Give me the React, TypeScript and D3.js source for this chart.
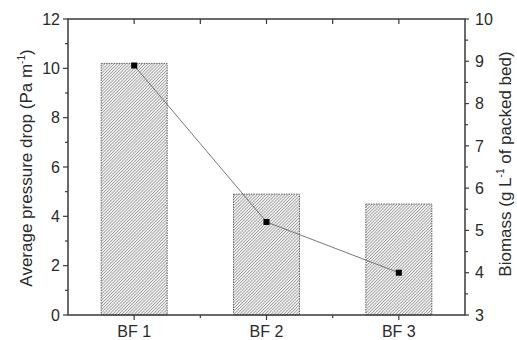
import React from "react";
import * as d3 from "d3";

const categories = ["BF 1", "BF 2", "BF 3"];
const pressureDrop = [10.2, 4.9, 4.5];
const biomass = [8.9, 5.2, 4.0];
const leftTicks = [0, 2, 4, 6, 8, 10, 12];
const rightTicks = [3, 4, 5, 6, 7, 8, 9, 10];

const W = 517, H = 340;
const M = { left: 68, right: 465, top: 19, bottom: 315 };
const AX = "#3a3a3a";
const TXT = "#2a2a2a";
const FONT = "'Liberation Sans', Arial, sans-serif";

export default function App() {
  const x = d3.scaleLinear().domain([0.5, 3.5]).range([M.left, M.right]);
  const yL = d3.scaleLinear().domain([0, 12]).range([M.bottom, M.top]);
  const yR = d3.scaleLinear().domain([3, 10]).range([M.bottom, M.top]);
  const barW = 66;
  const xPos = categories.map((_, i) => x(i + 1));
  const xMinor = d3.range(1.5, 3.5, 1).map((v) => x(v));
  const leftMinor = d3.range(1, 12, 2);
  const rightMinor = d3.range(3.5, 10, 1);
  const line = d3
    .line<number>()
    .x((_, i) => xPos[i])
    .y((d) => yR(d));

  return (
    <svg width={W} height={H} style={{ position: "absolute", left: 0, top: 0, background: "#fff" }} fontFamily={FONT}>
      <defs>
        <pattern id="hatch" patternUnits="userSpaceOnUse" width={2.2} height={2.2} patternTransform="rotate(45)">
          <rect width={2.2} height={2.2} fill="#eeeeee" />
          <line x1={0} y1={0} x2={0} y2={2.2} stroke="#5a5a5a" strokeWidth={0.8} />
        </pattern>
      </defs>
      {pressureDrop.map((v, i) => (
        <rect
          key={i}
          x={xPos[i] - barW / 2}
          y={yL(v)}
          width={barW}
          height={yL(0) - yL(v)}
          fill="url(#hatch)"
          stroke="#444"
          strokeWidth={0.8}
          strokeDasharray="1.5 1"
        />
      ))}
      <path d={line(biomass) || ""} fill="none" stroke="#777" strokeWidth={1} />
      {biomass.map((v, i) => (
        <rect key={i} x={xPos[i] - 3} y={yR(v) - 3} width={6} height={6} fill="#000" />
      ))}
      <rect x={M.left} y={M.top} width={M.right - M.left} height={M.bottom - M.top} fill="none" stroke={AX} strokeWidth={1.5} />
      {xPos.map((px, i) => (
        <g key={"b" + i}>
          <line x1={px} x2={px} y1={M.bottom} y2={M.bottom + 5} stroke={AX} strokeWidth={1.2} />
          <line x1={px} x2={px} y1={M.top} y2={M.top + 5} stroke={AX} strokeWidth={1.2} />
          <text x={px} y={337} textAnchor="middle" fontSize={16} fill={TXT}>
            {categories[i]}
          </text>
        </g>
      ))}
      {xMinor.map((px, i) => (
        <g key={"bm" + i}>
          <line x1={px} x2={px} y1={M.bottom} y2={M.bottom + 3} stroke={AX} strokeWidth={1.2} />
          <line x1={px} x2={px} y1={M.top} y2={M.top + 5} stroke={AX} strokeWidth={1.2} />
        </g>
      ))}
      {leftTicks.map((t) => (
        <g key={"l" + t}>
          <line x1={M.left - 5} x2={M.left} y1={yL(t)} y2={yL(t)} stroke={AX} strokeWidth={1.2} />
          <text x={M.left - 8} y={yL(t)} dy="0.36em" textAnchor="end" fontSize={16} fill={TXT}>
            {t}
          </text>
        </g>
      ))}
      {leftMinor.map((t) => (
        <line key={"lm" + t} x1={M.left - 3} x2={M.left} y1={yL(t)} y2={yL(t)} stroke={AX} strokeWidth={1.2} />
      ))}
      {rightTicks.map((t) => (
        <g key={"r" + t}>
          <line x1={M.right} x2={M.right + 4} y1={yR(t)} y2={yR(t)} stroke={AX} strokeWidth={1.2} />
          <text x={M.right + 10} y={yR(t)} dy="0.36em" textAnchor="start" fontSize={16} fill={TXT}>
            {t}
          </text>
        </g>
      ))}
      {rightMinor.map((t) => (
        <line key={"rm" + t} x1={M.right} x2={M.right + 3} y1={yR(t)} y2={yR(t)} stroke={AX} strokeWidth={1.2} />
      ))}
      <text transform={`translate(32,168) rotate(-90)`} textAnchor="middle" fontSize={17} fill={TXT}>
        Average pressure drop (Pa m
        <tspan fontSize={10} dy={-7}>-1</tspan>
        <tspan dy={7}>)</tspan>
      </text>
      <text transform={`translate(511,164) rotate(-90)`} textAnchor="middle" fontSize={17} fill={TXT}>
        Biomass (g L
        <tspan fontSize={10} dy={-7}>-1</tspan>
        <tspan dy={7}> of packed bed)</tspan>
      </text>
    </svg>
  );
}
